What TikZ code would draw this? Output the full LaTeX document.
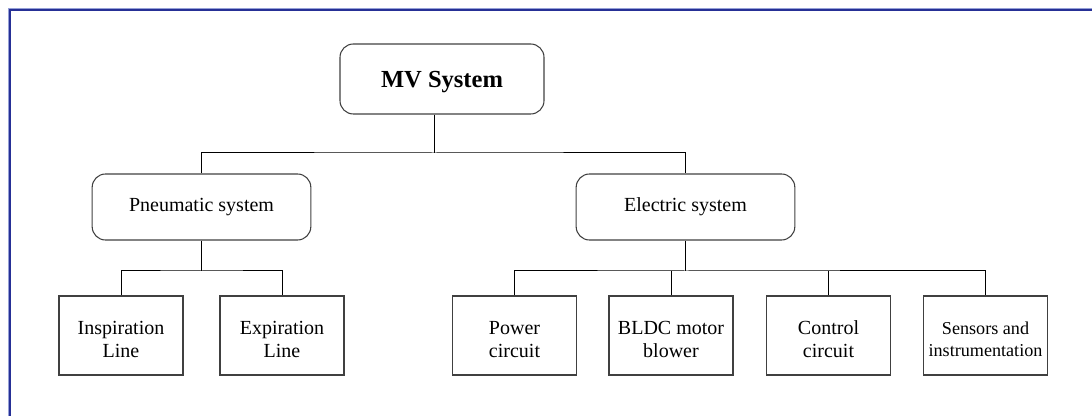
\documentclass[tikz,border=0pt]{standalone}
\usepackage{fontspec}
\setmainfont{Liberation Serif}
\definecolor{frameblue}{RGB}{38,48,150}
\definecolor{frameligt}{RGB}{150,160,215}

\begin{document}
\begin{tikzpicture}[x=0.75pt, y=-0.75pt, font=\fontsize{15}{17.5}\selectfont,
  topbox/.style={draw=black!75, line width=0.8pt, rounded corners=10pt, align=center,
    minimum width=153pt, minimum height=52.5pt, font=\fontsize{18.4}{22}\selectfont\bfseries,
    execute at begin node={\rule{0pt}{17pt}}},
  groupbox/.style={draw=black!75, line width=0.8pt, rounded corners=10pt, align=center,
    minimum width=164pt, minimum height=49.5pt},
  leafbox/.style={draw=black!75, line width=0.8pt, align=center, inner xsep=0pt, inner ysep=1pt,
    minimum width=93pt, minimum height=59.25pt, text height=33.5pt, text depth=0pt},
  wire/.style={black, line width=0.75pt}]

  \useasboundingbox (0,0) rectangle (1092,416);

  % page frame (left and top only)
  \draw[frameligt, line width=0.8pt] (8.2,416) -- (8.2,8.2) -- (1092,8.2);
  \draw[frameblue, line width=1.8pt] (10,416) -- (10,10) -- (1092,10);

  % boxes
  \node[topbox] (mv) at (442,79) {MV System};
  \node[groupbox] (pn) at (201.5,207) {Pneumatic system};
  \node[groupbox] (el) at (685.5,207) {Electric system};

  \node[leafbox] (insp) at (121,335.5) {Inspiration\\Line};
  \node[leafbox] (expi) at (282,335.5) {Expiration\\Line};
  \node[leafbox] (pow) at (514.5,335.5) {Power\\circuit};
  \node[leafbox] (bldc) at (671,335.5) {BLDC motor\\blower};
  \node[leafbox] (ctrl) at (828.5,335.5) {Control\\circuit};
  \node[leafbox, font=\fontsize{13.6}{16.8}\selectfont, text height=32pt] (sens) at (985.5,335.5)
    {Sensors and\\instrumentation};

  % tree lines
  \coordinate (hub) at (434,153);
  \coordinate (pbus) at (201.5,271);
  \coordinate (ebus) at (685.5,271);

  \draw[wire] (mv.south -| hub) -- (hub);
  \draw[wire] (pn.north) |- (hub) -| (el.north);

  \draw[wire] (pn.south) -- (pbus);
  \draw[wire] (insp.north) |- (pbus) -| (expi.north);

  \draw[wire] (el.south) -- (ebus);
  \draw[wire] (pow.north) |- (ebus) -| (sens.north);
  \draw[wire] (bldc.north) -- (bldc.north |- ebus);
  \draw[wire] (ctrl.north) -- (ctrl.north |- ebus);

\end{tikzpicture}
\end{document}
